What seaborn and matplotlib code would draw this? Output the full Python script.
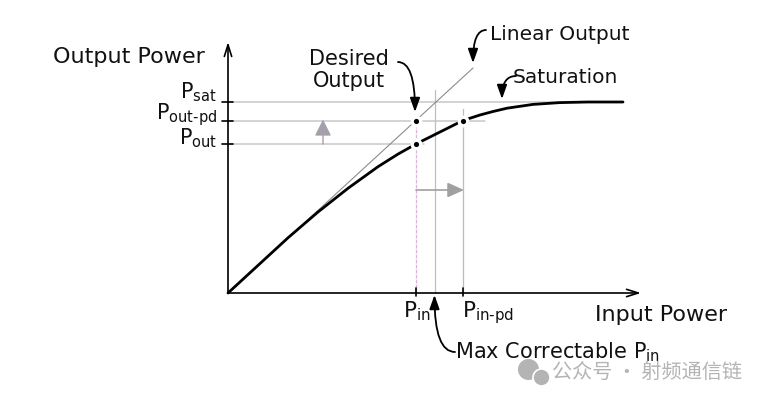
import numpy as np
import pandas as pd
import seaborn as sns
import matplotlib
matplotlib.use("Agg")
from matplotlib import pyplot as plt

# ------------------------------------------------------------
# data (input power offset, output power level)
# ------------------------------------------------------------
curve_in = [0, 30, 60, 90, 120, 150, 170, 188, 210, 235, 252, 265, 279, 305, 332, 360, 395]
curve_out = [0, 27.6, 55.2, 81, 104.7, 126.3, 138.9, 149, 160, 172.5, 178, 181.5, 184.8, 188.6, 190.4, 191, 191]

linear_in = [0, 245]
linear_out = [0, 225]

p_sat, p_out_pd, p_out = 191, 172.5, 149
p_in, p_max, p_in_pd = 188, 206.5, 235

level_names = [r"$\mathregular{P_{sat}}$", r"$\mathregular{P_{out\text{-}pd}}$", r"$\mathregular{P_{out}}$"]
input_names = [r"$\mathregular{P_{in}}$", r"$\mathregular{P_{in\text{-}pd}}$"]

sns.set_theme(style="white")
plt.rcParams["font.family"] = ["DejaVu Sans"]

fig = plt.figure(figsize=(7.74, 4.0), dpi=100)
ax = fig.add_axes([0, 0, 1, 1])
ax.set_xlim(-228, 546)
ax.set_ylim(-107, 293)
ax.axis("off")

ref_gray = "#c8c8c8"

# reference lines
ax.plot([0, 332], [p_sat, p_sat], color=ref_gray, lw=1.1, zorder=1)
ax.plot([0, 257], [p_out_pd, p_out_pd], color=ref_gray, lw=1.1, zorder=1)
ax.plot([0, 196], [p_out, p_out], color=ref_gray, lw=1.1, zorder=1)
ax.plot([p_in, p_in], [0, p_out_pd], color="#dcb4dc", lw=0.9, ls=(0, (3, 1)), zorder=1)
ax.plot([p_max, p_max], [0, 203], color="#c9b6c9", lw=0.9, zorder=1)
ax.plot([p_in_pd, p_in_pd], [0, 184], color="#bcbcbc", lw=0.9, zorder=1)

# linear output and the compressed curve
sns.lineplot(x=linear_in, y=linear_out, color="#8c8c8c", lw=0.8, ax=ax, zorder=2)
df = pd.DataFrame({"pin": curve_in, "pout": curve_out})
sns.lineplot(data=df, x="pin", y="pout", color="black", lw=2.0, ax=ax, zorder=3)

pts = pd.DataFrame({"x": [p_in, p_in, p_in_pd], "y": [p_out_pd, p_out, p_out_pd]})
sns.scatterplot(data=pts, x="x", y="y", color="black", s=38, edgecolor="white",
                linewidth=2.4, ax=ax, zorder=4)

# axes with arrow heads
ax.annotate("", xy=(0, 251), xytext=(0, 0),
            arrowprops=dict(arrowstyle="->,head_length=0.7,head_width=0.22", lw=1.2,
                            color="black", shrinkA=0, shrinkB=0), zorder=5)
ax.annotate("", xy=(413, 0), xytext=(0, 0),
            arrowprops=dict(arrowstyle="->,head_length=0.7,head_width=0.22", lw=1.2,
                            color="black", shrinkA=0, shrinkB=0), zorder=5)

# small ticks
for lv in [p_sat, p_out_pd, p_out]:
    ax.plot([-6, 5], [lv, lv], color="black", lw=1.2, zorder=5)
for xv in [p_in, p_in_pd]:
    ax.plot([xv, xv], [-3, 5], color="black", lw=1.2, zorder=5)

# gray shift arrows
ax.annotate("", xy=(95, p_out_pd + 1), xytext=(95, p_out),
            arrowprops=dict(arrowstyle="-|>,head_length=1.0,head_width=0.5", lw=1.0,
                            color="#a59fab", shrinkA=0, shrinkB=0, mutation_scale=10))
ax.annotate("", xy=(p_in_pd + 1, 103), xytext=(p_in, 103),
            arrowprops=dict(arrowstyle="-|>,head_length=1.0,head_width=0.45", lw=1.2,
                            color="#a0a0a0", shrinkA=0, shrinkB=0, mutation_scale=10))

# labels
ax.text(-99, 230, "Output Power", fontsize=16, ha="center", va="baseline", color="#111111")
ax.text(433, -28, "Input Power", fontsize=16, ha="center", va="baseline", color="#111111")
ax.text(262, 253, "Linear Output", fontsize=14.5, ha="left", va="baseline", color="#111111")
ax.text(285, 210, "Saturation", fontsize=14.5, ha="left", va="baseline", color="#111111")
ax.text(121, 223, "Desired\nOutput", fontsize=15, ha="center", va="center",
        linespacing=1.15, color="#111111")
ax.text(227, -65, r"Max Correctable $\mathregular{P_{in}}$", fontsize=15, ha="left",
        va="baseline", color="#111111")

for name, lv, dy in zip(level_names, [p_sat, p_out_pd, p_out], [4, 1, 0]):
    ax.text(-11, lv + dy, name, fontsize=15, ha="right", va="baseline", color="#111111")
ax.text(175, -24, input_names[0], fontsize=15.5, ha="left", va="baseline", color="#111111")
ax.text(234, -24, input_names[1], fontsize=15.5, ha="left", va="baseline", color="#111111")

# curved callout arrows
callout = dict(arrowstyle="-|>,head_length=0.7,head_width=0.25", lw=1.3, color="black",
               shrinkA=0, shrinkB=0, mutation_scale=12,
               connectionstyle="angle3,angleA=0,angleB=90")
ax.annotate("", xy=(187, 181), xytext=(170, 231), arrowprops=callout)
ax.annotate("", xy=(245, 230), xytext=(258, 263), arrowprops=callout)
ax.annotate("", xy=(274, 194), xytext=(288, 217), arrowprops=callout)
ax.annotate("", xy=(p_max, -2), xytext=(227, -59), arrowprops=callout)

# watermark
ax.scatter([300], [-76], s=200, color="#b4b4b4", marker="o", zorder=6)
ax.scatter([313], [-84], s=150, color="#b4b4b4", edgecolor="white", linewidth=1.2,
           marker="o", zorder=7)
ax.text(324, -79, "公众号 · 射频通信链", fontsize=14.5, ha="left", va="center",
        color="#b4b4b4", family=["Noto Sans CJK SC", "DejaVu Sans"], zorder=6)

plt.savefig("out.png", dpi=100)
plt.close()
